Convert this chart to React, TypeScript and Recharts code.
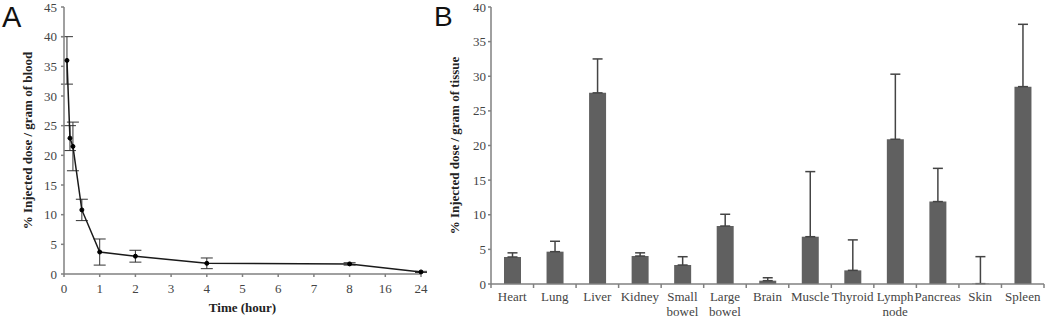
import React from 'react';
import { LineChart, Line, BarChart, Bar, XAxis, YAxis, ErrorBar } from 'recharts';

// ---------- Panel A data ----------
const TIME_H = [0.083, 0.167, 0.25, 0.5, 1, 2, 4, 8, 24];
const BLOOD_DOSE = [36.0, 22.9, 21.5, 10.8, 3.7, 3.0, 1.8, 1.7, 0.35];
const BLOOD_SD = [4.0, 2.1, 4.1, 1.8, 2.2, 1.0, 0.9, 0.2, 0.1];
const TIME_TICKS = [0, 1, 2, 3, 4, 5, 6, 7, 8, 16, 24];
const BLOOD_Y_TICKS = [0, 5, 10, 15, 20, 25, 30, 35, 40, 45];

// ---------- Panel B data ----------
const ORGANS = ['Heart', 'Lung', 'Liver', 'Kidney', 'Small bowel', 'Large bowel', 'Brain', 'Muscle', 'Thyroid', 'Lymph node', 'Pancreas', 'Skin', 'Spleen'];
const TISSUE_DOSE = [3.9, 4.67, 27.6, 4.04, 2.74, 8.37, 0.48, 6.83, 1.97, 20.9, 11.9, 0.05, 28.5];
const TISSUE_SD = [0.6, 1.5, 4.9, 0.46, 1.2, 1.7, 0.42, 9.4, 4.4, 9.4, 4.8, 3.9, 9.0];
const TISSUE_Y_TICKS = [0, 5, 10, 15, 20, 25, 30, 35, 40];

// broken time axis: linear up to 8 h, then one step per 8 h
const axisPos = (t: number) => (t <= 8 ? t : 8 + (t - 8) / 8);
const X_MAX_A = axisPos(24);

const bloodData = TIME_H.map((t, i) => ({
  pos: axisPos(t),
  dose: BLOOD_DOSE[i],
  err: BLOOD_SD[i],
}));

const tissueData = ORGANS.map((o, i) => ({
  organ: o,
  dose: TISSUE_DOSE[i],
  err: [0, TISSUE_SD[i]],
}));

const SERIF = 'Liberation Serif';
const SANS = 'Liberation Sans';
const AXIS = '#808080';
const TICK_FILL = '#444';

const B_WIDTH = 620;
const B_MARGIN_RIGHT = 6;
const B_YAXIS_W = 61;
const B_PLOT_W = B_WIDTH - B_MARGIN_RIGHT - B_YAXIS_W;

const timeLabel = (v: number) => {
  let best = 0;
  let bestD = Infinity;
  TIME_TICKS.forEach((t, i) => {
    const d = Math.abs(axisPos(t) - v);
    if (d < bestD) {
      bestD = d;
      best = i;
    }
  });
  return String(TIME_TICKS[best]);
};

const TimeTick = (props: any) => {
  const { x, y, payload } = props;
  return (
    <text x={x} y={y} dy={9} textAnchor="middle" style={{ fontFamily: SERIF, fontSize: 13, fill: TICK_FILL }}>
      {timeLabel(payload.value)}
    </text>
  );
};

const YTitle = (props: any) => {
  const { viewBox, value, bx } = props;
  const cy = viewBox.y + viewBox.height / 2;
  return (
    <text
      x={bx}
      y={cy}
      transform={`rotate(-90 ${bx} ${cy})`}
      textAnchor="middle"
      style={{ fontFamily: SERIF, fontWeight: 'bold', fontSize: 13, fill: '#222' }}
    >
      {value}
    </text>
  );
};

const XTitle = (props: any) => {
  const { viewBox, value, by } = props;
  const cx = viewBox.x + viewBox.width / 2;
  return (
    <text x={cx} y={by} textAnchor="middle" style={{ fontFamily: SERIF, fontWeight: 'bold', fontSize: 13, fill: '#222' }}>
      {value}
    </text>
  );
};

const OrganTick = (props: any) => {
  const { x, y, payload, index } = props;
  const band = B_PLOT_W / ORGANS.length;
  const lines = String(payload.value).split(' ');
  return (
    <g>
      <line x1={x - band / 2} x2={x - band / 2} y1={y} y2={y + 4} stroke={AXIS} strokeWidth={1.5} />
      {index === ORGANS.length - 1 && (
        <line x1={x + band / 2} x2={x + band / 2} y1={y} y2={y + 4} stroke={AXIS} strokeWidth={1.5} />
      )}
      <text x={x} y={y} textAnchor="middle" style={{ fontFamily: SERIF, fontSize: 13, fill: TICK_FILL }}>
        {lines.map((l, i) => (
          <tspan key={i} x={x} dy={i === 0 ? 17 : 15}>
            {l}
          </tspan>
        ))}
      </text>
    </g>
  );
};

const tickStyle = { fontFamily: SERIF, fontSize: 13, fill: TICK_FILL, style: { fontFamily: SERIF } };

export default function App() {
  return (
    <div style={{ position: 'absolute', left: 0, top: 0, width: 1050, height: 318, background: '#fff', fontFamily: SERIF }}>
      <div style={{ position: 'absolute', left: 2, top: 3, fontFamily: SANS, fontSize: 29, lineHeight: '29px', color: '#111' }}>A</div>
      <div style={{ position: 'absolute', left: 434, top: 3, fontFamily: SANS, fontSize: 28, lineHeight: '28px', color: '#111' }}>B</div>

      <div style={{ position: 'absolute', left: 0, top: 0 }}>
        <LineChart width={430} height={318} data={bloodData} margin={{ top: 7, right: 9, left: 0, bottom: 0 }}>
          <XAxis
            dataKey="pos"
            type="number"
            domain={[0, X_MAX_A]}
            ticks={TIME_TICKS.map(axisPos)}
            interval={0}
            height={44}
            tickSize={3}
            tickMargin={7}
            tick={<TimeTick />}
            axisLine={{ stroke: AXIS, strokeWidth: 1.5 }}
            tickLine={{ stroke: AXIS, strokeWidth: 1.5 }}
            label={<XTitle value="Time (hour)" by={312} />}
          />
          <XAxis
            xAxisId="top"
            orientation="top"
            type="number"
            domain={[0, X_MAX_A]}
            height={0}
            tick={false}
            tickLine={false}
            axisLine={{ stroke: AXIS, strokeWidth: 1.5 }}
          />
          <YAxis
            type="number"
            domain={[0, 45]}
            ticks={BLOOD_Y_TICKS}
            interval={0}
            width={64}
            tickSize={3}
            tickMargin={4}
            tick={tickStyle}
            axisLine={{ stroke: AXIS, strokeWidth: 1.5 }}
            tickLine={{ stroke: AXIS, strokeWidth: 1.5 }}
            label={<YTitle value="% Injected dose / gram of blood" bx={32} />}
          />
          <YAxis
            yAxisId="right"
            orientation="right"
            domain={[0, 45]}
            width={0}
            tick={false}
            tickLine={false}
            axisLine={{ stroke: AXIS, strokeWidth: 1.5 }}
          />
          <Line
            dataKey="dose"
            stroke="#1a1a1a"
            strokeWidth={1.5}
            dot={{ r: 2, fill: '#000', stroke: '#000', strokeWidth: 1 }}
            isAnimationActive={false}
          >
            <ErrorBar dataKey="err" direction="y" width={6} stroke="#333" strokeWidth={1} />
          </Line>
        </LineChart>
      </div>

      <div style={{ position: 'absolute', left: 430, top: 0 }}>
        <BarChart
          width={B_WIDTH}
          height={318}
          data={tissueData}
          margin={{ top: 7, right: B_MARGIN_RIGHT, left: 0, bottom: 0 }}
        >
          <XAxis
            dataKey="organ"
            type="category"
            interval={0}
            height={34}
            tickSize={0}
            tickMargin={0}
            tickLine={false}
            tick={<OrganTick />}
            axisLine={{ stroke: AXIS, strokeWidth: 1.5 }}
          />
          <XAxis
            xAxisId="top"
            dataKey="organ"
            orientation="top"
            height={0}
            tick={false}
            tickLine={false}
            axisLine={{ stroke: AXIS, strokeWidth: 1.5 }}
          />
          <YAxis
            type="number"
            domain={[0, 40]}
            ticks={TISSUE_Y_TICKS}
            interval={0}
            width={B_YAXIS_W}
            tickSize={3}
            tickMargin={2}
            tick={tickStyle}
            axisLine={{ stroke: AXIS, strokeWidth: 1.5 }}
            tickLine={{ stroke: AXIS, strokeWidth: 1.5 }}
            label={<YTitle value="% Injected dose / gram of tissue" bx={29} />}
          />
          <YAxis
            yAxisId="right"
            orientation="right"
            domain={[0, 40]}
            width={0}
            tick={false}
            tickLine={false}
            axisLine={{ stroke: AXIS, strokeWidth: 1.5 }}
          />
          <Bar dataKey="dose" fill="#606060" barSize={17} isAnimationActive={false}>
            <ErrorBar dataKey="err" direction="y" width={5} stroke="#444" strokeWidth={1.5} />
          </Bar>
        </BarChart>
      </div>
    </div>
  );
}
